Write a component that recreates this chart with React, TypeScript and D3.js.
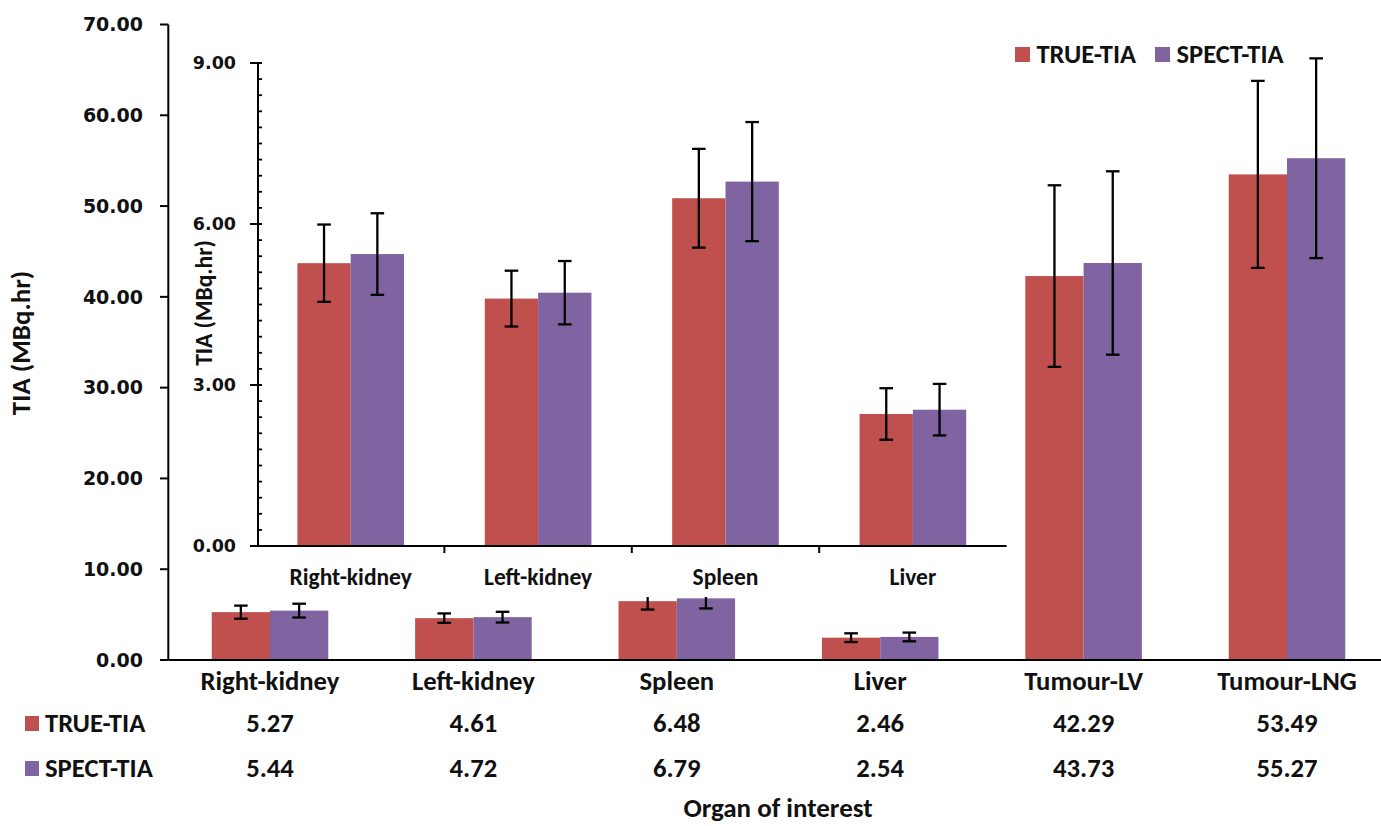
import React from "react";
import * as d3 from "d3";

const categories = ["Right-kidney", "Left-kidney", "Spleen", "Liver", "Tumour-LV", "Tumour-LNG"];
const insetCategories = ["Right-kidney", "Left-kidney", "Spleen", "Liver"];
const seriesNames = ["TRUE-TIA", "SPECT-TIA"];
const trueTIA = [5.27, 4.61, 6.48, 2.46, 42.29, 53.49];
const spectTIA = [5.44, 4.72, 6.79, 2.54, 43.73, 55.27];
const trueErr = [0.72, 0.52, 0.92, 0.48, 10.0, 10.3];
const spectErr = [0.76, 0.59, 1.11, 0.48, 10.1, 11.0];
const mainTicks = [0, 10, 20, 30, 40, 50, 60, 70];
const insetTicks = [0, 3, 6, 9];

const COLORS = ["#C0504D", "#8064A2"];
const NUM_FONT = "'DejaVu Sans', Verdana, sans-serif";
const TXT_FONT = "Carlito, Lato, 'Open Sans', sans-serif";

export default function App() {
  const W = 1381, H = 826;
  const series = [trueTIA, spectTIA];
  const errs = [trueErr, spectErr];

  // main chart scales
  const mx = d3.scaleBand<string>().domain(categories).range([168.3, 168.3 + 6 * 203.4]).paddingInner(0.427).paddingOuter(0.2135);
  const msub = d3.scaleBand<string>().domain(seriesNames).range([0, mx.bandwidth()]);
  const my = d3.scaleLinear().domain([0, 70]).range([660, 24.5]);
  const mcx = (c: string) => (mx(c) as number) + mx.bandwidth() / 2;

  // inset scales
  const ix = d3.scaleBand<string>().domain(insetCategories).range([257, 1006.6]).paddingInner(0.431).paddingOuter(0.2155);
  const isub = d3.scaleBand<string>().domain(seriesNames).range([0, ix.bandwidth()]);
  const iy = d3.scaleLinear().domain([0, 9]).range([546, 63]);
  const insetMinor = d3.range(0, 9.0001, 0.3);
  const insetX0 = 258;

  const cap = 6.8;

  const errBar = (x: number, yTop: number, yBot: number, key: string) => (
    <g key={key} stroke="#000" strokeWidth={2.3}>
      <line x1={x} x2={x} y1={yTop} y2={yBot} />
      <line x1={x - cap} x2={x + cap} y1={yTop} y2={yTop} />
      <line x1={x - cap} x2={x + cap} y1={yBot} y2={yBot} />
    </g>
  );

  return (
    <svg width={W} height={H} style={{ position: "absolute", left: 0, top: 0, background: "#fff" }}>
      <rect x={0} y={0} width={W} height={H} fill="#fff" />
      {/* main bars */}
      {categories.map((c, i) =>
        seriesNames.map((s, k) => {
          const x = (mx(c) as number) + (msub(s) as number);
          const v = series[k][i];
          return <rect key={c + s} x={x} y={my(v)} width={msub.bandwidth()} height={my(0) - my(v)} fill={COLORS[k]} />;
        })
      )}
      {categories.map((c, i) =>
        seriesNames.map((s, k) => {
          const x = (mx(c) as number) + (msub(s) as number) + msub.bandwidth() / 2;
          const v = series[k][i];
          const e = errs[k][i];
          return errBar(x, my(v + e), my(v - e), "e" + c + s);
        })
      )}
      {/* main axes */}
      <line x1={168.3} x2={W} y1={my(0)} y2={my(0)} stroke="#000" strokeWidth={2} />
      <line x1={168.3} x2={168.3} y1={my(70)} y2={my(0)} stroke="#000" strokeWidth={2} />
      {mainTicks.map((t) => (
        <g key={"mt" + t}>
          <line x1={160} x2={168.3} y1={my(t)} y2={my(t)} stroke="#000" strokeWidth={2} />
          <text x={143} y={my(t)} dy="0.36em" textAnchor="end" fontFamily={NUM_FONT} fontWeight="bold" fontSize={19} fill="#111">
            {t.toFixed(2)}
          </text>
        </g>
      ))}
      <text transform={`translate(30,${343}) rotate(-90)`} textAnchor="middle" fontFamily={TXT_FONT} fontWeight="bold" fontSize={27} fill="#111">
        TIA (MBq.hr)
      </text>

      {/* inset */}
      <rect x={180} y={38} width={832} height={559} fill="#fff" />
      {insetCategories.map((c, i) =>
        seriesNames.map((s, k) => {
          const x = (ix(c) as number) + (isub(s) as number);
          const v = series[k][i];
          return <rect key={"i" + c + s} x={x} y={iy(v)} width={isub.bandwidth()} height={iy(0) - iy(v)} fill={COLORS[k]} />;
        })
      )}
      {insetCategories.map((c, i) =>
        seriesNames.map((s, k) => {
          const x = (ix(c) as number) + (isub(s) as number) + isub.bandwidth() / 2;
          const v = series[k][i];
          const e = errs[k][i];
          return errBar(x, iy(v + e), iy(v - e), "ie" + c + s);
        })
      )}
      <line x1={insetX0} x2={1006.6} y1={iy(0)} y2={iy(0)} stroke="#000" strokeWidth={2} />
      <line x1={insetX0} x2={insetX0} y1={iy(9)} y2={iy(0)} stroke="#000" strokeWidth={2} />
      {insetMinor.map((t, j) => (
        <line key={"im" + j} x1={insetX0} x2={insetX0 + 4} y1={iy(t)} y2={iy(t)} stroke="#000" strokeWidth={1.8} />
      ))}
      {insetTicks.map((t) => (
        <g key={"it" + t}>
          <line x1={insetX0 - 8} x2={insetX0 + 4} y1={iy(t)} y2={iy(t)} stroke="#000" strokeWidth={2} />
          <text x={236} y={iy(t)} dy="0.36em" textAnchor="end" fontFamily={NUM_FONT} fontWeight="bold" fontSize={17.5} fill="#111">
            {t.toFixed(2)}
          </text>
        </g>
      ))}
      {insetCategories.slice(1).map((c) => (
        <line key={"ixt" + c} x1={ix(c)! - (ix.step() - ix.bandwidth()) / 2} x2={ix(c)! - (ix.step() - ix.bandwidth()) / 2} y1={iy(0)} y2={iy(0) + 7} stroke="#000" strokeWidth={2} />
      ))}
      {insetCategories.map((c) => (
        <text key={"il" + c} x={ix(c)! + ix.bandwidth() / 2} y={585} textAnchor="middle" fontFamily={TXT_FONT} fontWeight="bold" fontSize={23.5} fill="#111">
          {c}
        </text>
      ))}
      <text transform={`translate(212,${303}) rotate(-90)`} textAnchor="middle" fontFamily={TXT_FONT} fontWeight="bold" fontSize={23.5} fill="#111">
        TIA (MBq.hr)
      </text>

      {/* legend */}
      {seriesNames.map((s, k) => {
        const lx = [1015, 1155][k];
        return (
          <g key={"lg" + s}>
            <rect x={lx} y={47} width={15} height={15} fill={COLORS[k]} />
            <text x={lx + 21.5} y={62.5} fontFamily={TXT_FONT} fontWeight="bold" fontSize={26.5} fill="#111">
              {s}
            </text>
          </g>
        );
      })}

      {/* data table */}
      {categories.map((c) => (
        <text key={"cl" + c} x={mcx(c)} y={690} textAnchor="middle" fontFamily={TXT_FONT} fontWeight="bold" fontSize={26.7} fill="#111">
          {c}
        </text>
      ))}
      {seriesNames.map((s, k) => (
        <g key={"row" + s}>
          <rect x={25} y={[716, 761][k]} width={14} height={15} fill={COLORS[k]} />
          <text x={45} y={[731.5, 776.5][k]} fontFamily={TXT_FONT} fontWeight="bold" fontSize={26.7} fill="#111">
            {s}
          </text>
          {categories.map((c, i) => (
            <text key={"v" + s + c} x={mcx(c)} y={[731.5, 776.5][k]} textAnchor="middle" fontFamily={TXT_FONT} fontWeight="bold" fontSize={26.7} fill="#111">
              {series[k][i].toFixed(2)}
            </text>
          ))}
        </g>
      ))}
      <text x={778} y={817} textAnchor="middle" fontFamily={TXT_FONT} fontWeight="bold" fontSize={27} fill="#111">
        Organ of interest
      </text>
    </svg>
  );
}
